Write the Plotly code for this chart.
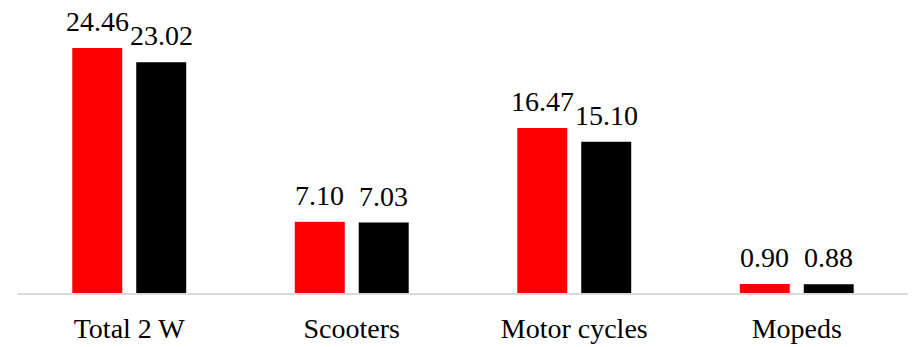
import plotly.graph_objects as go

categories = ["Total 2 W", "Scooters", "Motor cycles", "Mopeds"]
series_a = [24.46, 7.10, 16.47, 0.90]
series_b = [23.02, 7.03, 15.10, 0.88]

FONT = "Liberation Serif, Times New Roman, serif"
BAR_OFFSET = 32  # horizontal pixel offset of each bar from its category centre

fig = go.Figure()
for vals, color in [(series_a, "#ff0000"), (series_b, "#000000")]:
    fig.add_trace(go.Bar(
        x=categories,
        y=vals,
        marker=dict(color=color, line=dict(width=0)),
        showlegend=False,
        hoverinfo="x+y",
    ))

# value labels above each bar
for vals, shift in [(series_a, -BAR_OFFSET), (series_b, BAR_OFFSET)]:
    for cat, v in zip(categories, vals):
        fig.add_annotation(
            x=cat, y=v, xref="x", yref="y",
            text=f"{v:.2f}",
            showarrow=False,
            xanchor="center", yanchor="bottom",
            xshift=shift, yshift=9,
            font=dict(family=FONT, size=28, color="#000000"),
        )

fig.update_layout(
    width=912,
    height=347,
    margin=dict(l=18, r=4, t=5, b=54),
    paper_bgcolor="white",
    plot_bgcolor="white",
    barmode="group",
    bargap=0.425,
    bargroupgap=0.219,
    font=dict(family=FONT, size=28, color="#000000"),
    xaxis=dict(
        showline=True,
        linecolor="#d9d9d9",
        linewidth=2,
        showgrid=False,
        ticks="",
        automargin=False,
        ticklabelstandoff=9,
        tickfont=dict(family=FONT, size=28, color="#000000"),
    ),
    yaxis=dict(
        range=[0, 28.74],
        visible=False,
        showgrid=False,
        zeroline=False,
    ),
)

fig.write_html("out.html")
